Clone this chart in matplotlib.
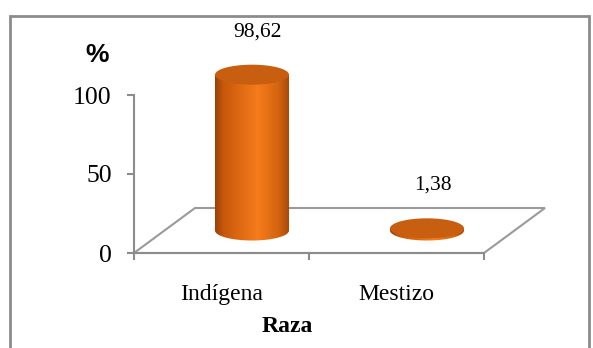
import numpy as np
import matplotlib
matplotlib.use("Agg")
import matplotlib.pyplot as plt
from matplotlib.patches import Ellipse, PathPatch, Polygon, Rectangle
from matplotlib.path import Path
from matplotlib.colors import to_rgb

categories = ["Indígena", "Mestizo"]
values = [98.62, 1.38]
value_labels = ["98,62", "1,38"]
y_ticks = [0, 50, 100]

W, H, DPI = 593, 348, 100
# plot box in image pixels (y down)
AX_L, AX_R, AX_TOP, AX_BOT = 134, 484, 95, 253
PX_X = (AX_R - AX_L) / 2.0          # px per category
PX_Y = (AX_BOT - AX_TOP) / 100.0    # px per percent

# fake 3d: depth of the floor and cylinder size, in data units
DEPTH_X = 61 / PX_X
DEPTH_Y = 45 / PX_Y
BAR_W = 74 / PX_X
ELL_H = 20 / PX_Y

GREY = "#8c8c8c"
TOP_COLOR = "#c85e0f"
SERIF = "Liberation Serif"

fig = plt.figure(figsize=(W / DPI, H / DPI), dpi=DPI)
ax = fig.add_axes([AX_L / W, 1 - AX_BOT / H, (AX_R - AX_L) / W, (AX_BOT - AX_TOP) / H])

# horizontal shading of the cylinder body
stops = [0, 0.12, 0.58, 0.86, 1]
cols = ["#9a4108", "#c9580c", "#f67c1c", "#d4640f", "#a9490a"]
rgb = np.array([to_rgb(c) for c in cols])
t = np.linspace(0, 1, 200)
grad = np.stack([np.interp(t, stops, rgb[:, k]) for k in range(3)], axis=-1)[None, :, :]

# floor
floor = Polygon([(0, 0), (2, 0), (2 + DEPTH_X, DEPTH_Y), (DEPTH_X, DEPTH_Y)],
                closed=True, fill=False, ec="#9a9a9a", lw=1.5, zorder=1, clip_on=False)
ax.add_patch(floor)

a = BAR_W / 2
b = ELL_H / 2
th = np.linspace(np.pi, 2 * np.pi, 80)
for i, v in enumerate(values):
    xc = i + 0.5 + DEPTH_X / 2
    y0 = DEPTH_Y / 2
    y1 = y0 + v
    verts = [(xc - a, y1), (xc - a, y0)] + list(zip(xc + a * np.cos(th), y0 + b * np.sin(th))) \
        + [(xc + a, y1), (xc - a, y1)]
    codes = [Path.MOVETO] + [Path.LINETO] * (len(verts) - 2) + [Path.CLOSEPOLY]
    body = PathPatch(Path(verts, codes), transform=ax.transData, fc="none", ec="none")
    im = ax.imshow(grad, extent=(xc - a, xc + a, y0 - b, y1), aspect="auto",
                   clip_path=body, zorder=3, interpolation="bilinear")
    im.set_clip_box(fig.bbox)
    ax.add_patch(Ellipse((xc, y1), 2 * a, 2 * b, fc=TOP_COLOR, ec="none", zorder=4, clip_on=False))
    ax.annotate(value_labels[i], xy=(xc, y1), xytext=(4, 31), textcoords="offset points",
                ha="center", va="center", fontsize=15.5, family=SERIF, annotation_clip=False)

ax.set_xlim(0, 2)
ax.set_ylim(0, 100)

for s in ["top", "right"]:
    ax.spines[s].set_visible(False)
for s in ["left", "bottom"]:
    ax.spines[s].set_color(GREY)
    ax.spines[s].set_linewidth(1.5)

ax.set_yticks(y_ticks)
ax.set_yticklabels([str(y) for y in y_ticks], family=SERIF, fontsize=18.5)
ax.set_xticks([0, 1, 2], labels=[])
ax.set_xticks([0.5, 1.5], labels=categories, minor=True, family=SERIF, fontsize=17)
ax.tick_params(axis="both", which="major", color=GREY, width=1.5, length=5, direction="out")
ax.tick_params(axis="y", pad=11)
ax.tick_params(axis="x", which="minor", length=0, pad=22)

ax.set_xlabel("Raza", family=SERIF, fontsize=17, fontweight="bold")
ax.xaxis.label.set_va("center")
ax.xaxis.set_label_coords(0.437, -0.465)

ax.text(-0.106, 1.25, "%", transform=ax.transAxes, ha="center", va="center",
        family="Liberation Sans", fontweight="bold", fontsize=19)

# chart border
border = Rectangle((10 / W, -0.05), (589 - 10) / W, 1.05 - 16 / H, transform=fig.transFigure,
                   fill=False, ec=GREY, lw=2, clip_on=False)
fig.patches.append(border)

fig.savefig("out.png", dpi=DPI)
